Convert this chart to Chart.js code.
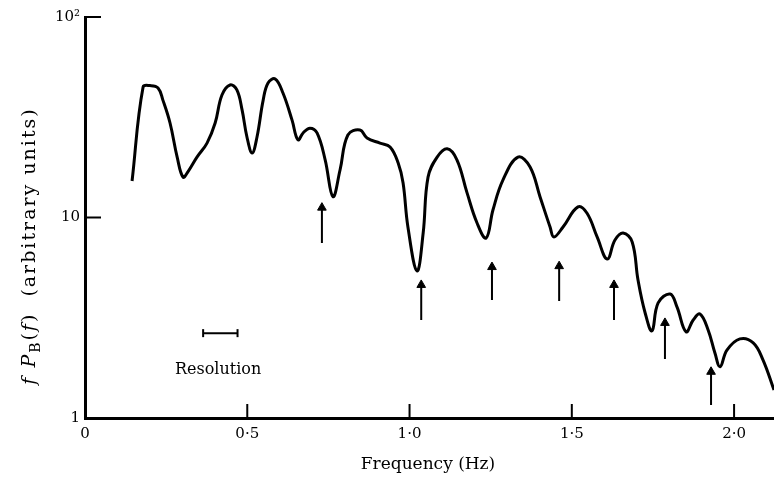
<!DOCTYPE html>
<html>
<head>
<meta charset="utf-8">
<script src="https://cdn.jsdelivr.net/npm/chart.js@4"></script>
<style>
  html, body { margin: 0; padding: 0; background: #fff; }
  #wrap { width: 774px; height: 478px; }
</style>
</head>
<body>
<div id="wrap"><canvas id="spec"></canvas></div>
<script>
// spectrum (frequency in Hz, f*P_B(f) arbitrary units)
const freq = [0.145, 0.179, 0.200, 0.225, 0.240, 0.262, 0.284, 0.302, 0.317, 0.345, 0.376, 0.401, 0.422, 0.447, 0.468, 0.484,
  0.499, 0.515, 0.530, 0.549, 0.564, 0.586, 0.610, 0.638, 0.656, 0.672, 0.693, 0.715, 0.740, 0.764, 0.786, 0.810,
  0.847, 0.869, 0.909, 0.940, 0.965, 0.980, 0.995, 1.023, 1.042, 1.057, 1.085, 1.116, 1.146, 1.177, 1.208, 1.236,
  1.257, 1.288, 1.334, 1.371, 1.402, 1.433, 1.445, 1.473, 1.519, 1.547, 1.578, 1.609, 1.633, 1.658, 1.686, 1.704,
  1.726, 1.747, 1.766, 1.803, 1.824, 1.852, 1.874, 1.895, 1.920, 1.941, 1.957, 1.978, 2.018, 2.059, 2.089, 2.123];
const power = [15.2, 44.8, 45.5, 44.3, 38.5, 29.6, 20.0, 15.9, 16.9, 20.0, 23.5, 29.6, 40.8, 45.8, 43.3, 34.4,
  25.2, 21.0, 25.2, 38.5, 46.9, 49.1, 41.8, 30.6, 24.4, 26.4, 27.9, 26.4, 19.4, 12.7, 17.3, 25.8,
  27.3, 24.9, 23.5, 22.5, 18.7, 14.9, 8.97, 5.42, 8.37, 15.9, 20.0, 22.0, 19.4, 13.3, 9.39, 7.90,
  10.9, 15.4, 20.0, 17.9, 12.7, 8.97, 8.0, 8.97, 11.3, 10.5, 8.0, 6.21, 7.72, 8.37, 7.55, 4.88,
  3.34, 2.72, 3.75, 4.15, 3.58, 2.69, 3.08, 3.30, 2.75, 2.11, 1.80, 2.18, 2.48, 2.37, 1.95, 1.38];

// arrows marking the minima
const arrowFreq = [0.730, 1.036, 1.254, 1.461, 1.630, 1.787, 1.929];
const arrowTail = [7.46, 3.08, 3.88, 3.83, 3.08, 1.97, 1.16];
const arrowHead = [11.2, 4.61, 5.66, 5.72, 4.61, 2.98, 1.70];

// resolution bar
const resFreq = [0.364, 0.470];
const resLevel = 2.65;

const xTicks = [0, 0.5, 1.0, 1.5, 2.0];
const xTickLabels = ['0', '0\u00b75', '1\u00b70', '1\u00b75', '2\u00b70'];
const yTicks = [1, 10, 100];
const yTickLabels = ['1', '10', '10\u00b2'];

const serif = '"DejaVu Serif", serif';

const arrowData = [];
arrowFreq.forEach((f, i) => {
  arrowData.push({x: f, y: arrowTail[i]});
  arrowData.push({x: f, y: arrowHead[i], head: true});
  arrowData.push({x: f, y: null});
});

const extras = {
  id: 'extras',
  afterDraw(chart) {
    const {ctx, scales: {x, y}} = chart;
    ctx.save();
    ctx.strokeStyle = '#000';
    ctx.fillStyle = '#000';
    ctx.lineWidth = 2;
    // inward ticks
    xTicks.forEach(v => {
      if (v === 0) return;
      const px = x.getPixelForValue(v);
      ctx.beginPath();
      ctx.moveTo(px, y.bottom);
      ctx.lineTo(px, y.bottom - 14);
      ctx.stroke();
    });
    [10, 100].forEach(v => {
      const py = y.getPixelForValue(v);
      ctx.beginPath();
      ctx.moveTo(x.left, py);
      ctx.lineTo(x.left + 16, py);
      ctx.stroke();
    });
    // resolution label
    ctx.font = '16px ' + serif;
    ctx.textAlign = 'center';
    ctx.textBaseline = 'middle';
    ctx.fillText('Resolution', x.getPixelForValue(0.41), y.getPixelForValue(1.74));
    // x title
    ctx.font = '17px ' + serif;
    ctx.fillText('Frequency (Hz)', 428, 465);
    // y title with italic f and subscript B
    ctx.translate(30, 246);
    ctx.rotate(-Math.PI / 2);
    ctx.letterSpacing = '2px';
    const parts = [
      ['italic 19px ' + serif, 'f ', 0],
      ['italic 19px ' + serif, 'P', 0],
      ['14px ' + serif, 'B', 6],
      ['19px ' + serif, '(', 0],
      ['italic 19px ' + serif, 'f', 0],
      ['19px ' + serif, ')  (arbitrary units)', 0]
    ];
    let total = 0;
    parts.forEach(p => { ctx.font = p[0]; total += ctx.measureText(p[1]).width; });
    let cx = -total / 2;
    ctx.textAlign = 'left';
    parts.forEach(p => {
      ctx.font = p[0];
      ctx.fillText(p[1], cx, p[2]);
      cx += ctx.measureText(p[1]).width;
    });
    ctx.restore();
  }
};

new Chart(document.getElementById('spec'), {
  type: 'line',
  data: {
    datasets: [
      {
        data: freq.map((f, i) => ({x: f, y: power[i]})),
        borderColor: '#000',
        borderWidth: 3,
        pointRadius: 0,
        tension: 0.4,
        fill: false
      },
      {
        data: arrowData,
        borderColor: '#000',
        backgroundColor: '#000',
        borderWidth: 2,
        spanGaps: false,
        pointStyle: 'triangle',
        pointRadius: c => (c.raw && c.raw.head) ? 5 : 0,
        pointBorderWidth: 1
      },
      {
        data: resFreq.map(f => ({x: f, y: resLevel})),
        borderColor: '#000',
        borderWidth: 2,
        pointStyle: 'line',
        pointRotation: 90,
        pointRadius: 4,
        pointBorderWidth: 2
      }
    ]
  },
  options: {
    responsive: true,
    maintainAspectRatio: false,
    animation: false,
    layout: {autoPadding: false, padding: {top: 17, right: 0, left: 0, bottom: 0}},
    plugins: {legend: {display: false}, tooltip: {enabled: false}},
    scales: {
      x: {
        type: 'linear',
        min: 0,
        max: 2.123,
        afterBuildTicks: s => { s.ticks = xTicks.map(v => ({value: v})); },
        afterFit: s => { s.height = 60; s.paddingRight = 0; s.paddingLeft = 0; },
        grid: {drawOnChartArea: false, drawTicks: false},
        border: {display: true, color: '#000', width: 3},
        ticks: {
          color: '#000',
          padding: 7,
          font: {family: serif, size: 15},
          maxRotation: 0,
          autoSkip: false,
          callback: v => xTickLabels[xTicks.indexOf(v)]
        }
      },
      y: {
        type: 'logarithmic',
        min: 1,
        max: 100,
        afterBuildTicks: s => { s.ticks = yTicks.map(v => ({value: v})); },
        afterFit: s => { s.width = 85; },
        grid: {drawOnChartArea: false, drawTicks: false},
        border: {display: true, color: '#000', width: 3},
        ticks: {
          color: '#000',
          padding: 5,
          font: {family: serif, size: 15},
          autoSkip: false,
          callback: v => yTickLabels[yTicks.indexOf(v)]
        }
      }
    }
  },
  plugins: [extras]
});
</script>
</body>
</html>
